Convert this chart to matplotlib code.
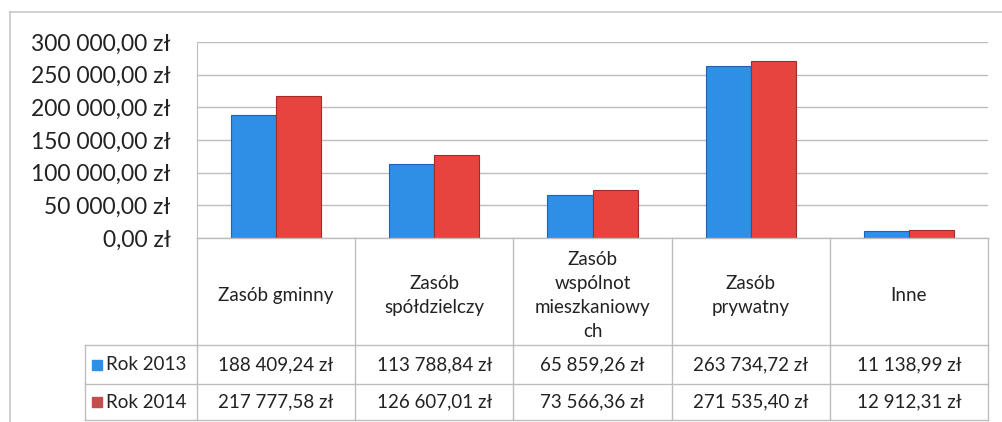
import matplotlib
matplotlib.use("Agg")
import matplotlib.pyplot as plt
import numpy as np

plt.rcParams['font.family'] = ['Lato', 'DejaVu Sans']

categories = ["Zasób gminny", "Zasób\nspółdzielczy", "Zasób\nwspólnot\nmieszkaniowy\nch",
              "Zasób\nprywatny", "Inne"]
series = ["Rok 2013", "Rok 2014"]
rok_2013 = [188409.24, 113788.84, 65859.26, 263734.72, 11138.99]
rok_2014 = [217777.58, 126607.01, 73566.36, 271535.40, 12912.31]
y_ticks = [0, 50000, 100000, 150000, 200000, 250000, 300000]

blue, blue_edge = '#2f8ee6', '#1d64b0'
red, red_edge = '#e8443f', '#a52b2a'
txt = '#222222'
line = '#bdbdbd'


def zl(v):
    s = f"{v:,.2f}".replace(",", " ").replace(".", ",")
    return s + " zł"


W, H = 1002, 422
fig = plt.figure(figsize=(W / 100, H / 100), dpi=100)

# pixel layout
left, right, top, zero = 197, 988, 42, 238
row1, row2, row3 = 345, 384, 420
leg_left = 85

ax = fig.add_axes([left / W, 1 - zero / H, (right - left) / W, (zero - top) / H])
x = np.arange(len(categories))
w = 0.285
ax.bar(x - w / 2, rok_2013, w, color=blue, edgecolor=blue_edge, linewidth=0.8, zorder=3)
ax.bar(x + w / 2, rok_2014, w, color=red, edgecolor=red_edge, linewidth=0.8, zorder=3)
ax.set_xlim(-0.5, len(categories) - 0.5)
ax.set_ylim(0, 300000)
ax.set_yticks(y_ticks)
ax.set_yticklabels([zl(v) for v in y_ticks], fontsize=16.5, color=txt)
ax.tick_params(axis='y', length=0, pad=19)
ax.set_xticks([])
ax.grid(axis='y', color=line, linewidth=1.0, zorder=0)
for s in ['top', 'right', 'bottom']:
    ax.spines[s].set_visible(False)
ax.spines['left'].set_color(line)

# table below, in figure pixel coords
def fx(px):
    return px / W


def fy(py):
    return 1 - py / H


col_w = (right - left) / len(categories)
edges = [left + i * col_w for i in range(len(categories) + 1)]

lk = dict(color=line, linewidth=1.0, transform=fig.transFigure)
fig.add_artist(plt.Line2D([fx(left), fx(right)], [fy(zero), fy(zero)], **lk))
for e in edges:
    fig.add_artist(plt.Line2D([fx(e), fx(e)], [fy(zero), fy(row3)], **lk))
for r in (row1, row2, row3):
    fig.add_artist(plt.Line2D([fx(leg_left), fx(right)], [fy(r), fy(r)], **lk))
fig.add_artist(plt.Line2D([fx(leg_left), fx(leg_left)], [fy(row1), fy(row3)], **lk))

# outer frame of the scan
fig.add_artist(plt.Line2D([fx(10), fx(1002)], [fy(12), fy(12)], color='#c8c8c8', linewidth=1.2,
                          transform=fig.transFigure))
fig.add_artist(plt.Line2D([fx(10), fx(10)], [fy(12), fy(422)], color='#c8c8c8', linewidth=1.2,
                          transform=fig.transFigure))

fs = 13.5
for i, c in enumerate(categories):
    cx = (edges[i] + edges[i + 1]) / 2
    fig.text(fx(cx), fy((zero + row1) / 2 + 4), c, ha='center', va='center',
             fontsize=fs, color=txt, linespacing=1.5)
    fig.text(fx(cx), fy((row1 + row2) / 2), zl(rok_2013[i]), ha='center', va='center',
             fontsize=fs, color=txt)
    fig.text(fx(cx), fy((row2 + row3) / 2), zl(rok_2014[i]), ha='center', va='center',
             fontsize=fs, color=txt)

for (r0, r1), name, col in zip([(row1, row2), (row2, row3)], series, [blue, '#c0504d']):
    cy = (r0 + r1) / 2
    fig.add_artist(plt.Line2D([fx(leg_left + 12)], [fy(cy)], marker='s', markersize=7,
                              color=col, transform=fig.transFigure))
    fig.text(fx(leg_left + 21), fy(cy), name, ha='left', va='center',
             fontsize=fs, color=txt)

fig.savefig("out.png", dpi=100)
